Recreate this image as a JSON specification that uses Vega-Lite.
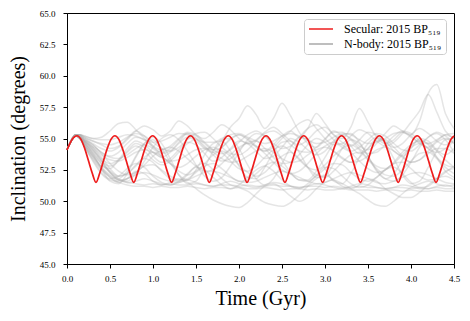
{
  "$schema": "https://vega.github.io/schema/vega-lite/v6.json",
  "width": 387,
  "height": 251,
  "autosize": {"type": "none"},
  "padding": {"left": 67, "top": 13, "right": 16, "bottom": 57},
  "background": "white",
  "datasets": {
    "times": [
      {"k":1,"t":0},{"k":2,"t":0.05},{"k":3,"t":0.1},{"k":4,"t":0.15},{"k":5,"t":0.2},{"k":6,"t":0.3},{"k":7,"t":0.4},{"k":8,"t":0.5},{"k":9,"t":0.6},{"k":10,"t":0.7},
      {"k":11,"t":0.8},{"k":12,"t":0.9},{"k":13,"t":1.0},{"k":14,"t":1.1},{"k":15,"t":1.2},{"k":16,"t":1.3},{"k":17,"t":1.4},{"k":18,"t":1.5},{"k":19,"t":1.6},{"k":20,"t":1.7},
      {"k":21,"t":1.8},{"k":22,"t":1.9},{"k":23,"t":2.0},{"k":24,"t":2.1},{"k":25,"t":2.2},{"k":26,"t":2.3},{"k":27,"t":2.4},{"k":28,"t":2.5},{"k":29,"t":2.6},{"k":30,"t":2.7},
      {"k":31,"t":2.8},{"k":32,"t":2.9},{"k":33,"t":3.0},{"k":34,"t":3.1},{"k":35,"t":3.2},{"k":36,"t":3.3},{"k":37,"t":3.4},{"k":38,"t":3.5},{"k":39,"t":3.6},{"k":40,"t":3.7},
      {"k":41,"t":3.8},{"k":42,"t":3.9},{"k":43,"t":4.0},{"k":44,"t":4.1},{"k":45,"t":4.2},{"k":46,"t":4.3},{"k":47,"t":4.4},{"k":48,"t":4.5}
    ],
    "nbody": [
      {"s":"a","v":[54.1,54.8,55.2,55.0, 54.4,53.4,52.5,51.9,51.5,51.3,51.2,51.2,51.1,51.2, 51.1,51.1,51.2,51.1,51.0,51.1,51.1,51.0,51.1,51.0, 51.0,51.1,51.0,50.9,51.0,51.0,50.9,51.0,50.9,50.9, 51.0,50.9,50.9,50.9,50.8,50.9,50.9,50.8,50.9,50.8, 50.8,50.9,50.8,50.8]},
      {"s":"b","v":[54.1,54.8,55.3,55.1, 54.7,53.9,53.0,52.3,51.8,51.5,51.4,51.3,51.4,51.3, 51.4,51.3,51.3,51.4,51.3,51.2,51.3,51.3,51.2,51.3, 51.2,51.2,51.3,51.2,51.2,51.1,51.2,51.2,51.1,51.2, 51.1,51.1,51.2,51.1,51.1,51.0,51.1,51.1,51.0,51.1, 51.0,51.1,51.0,51.0]},
      {"s":"c","v":[54.1,54.8,55.3,55.2, 54.9,54.5,53.8,53.0,52.4,52.1,52.3,52.9,53.6,54.1, 54.3,54.0,53.4,52.8,52.4,52.5,53.0,53.7,54.3,54.6, 54.4,53.8,53.1,52.5,52.2,52.4,53.0,53.8,54.4,54.7, 54.5,53.9,53.2,52.6,52.3,52.5,53.1,53.9,54.5,54.8, 54.6,54.0,53.3,52.7]},
      {"s":"d","v":[54.1,54.8,55.2,55.1, 54.8,54.1,53.2,52.3,51.8,52.4,53.6,54.6,54.9,54.2, 53.1,52.1,51.7,52.5,53.7,54.6,54.8,54.0,52.8,51.9, 51.8,52.7,53.9,54.7,54.8,53.9,52.7,51.9,52.0,53.0, 54.2,54.9,54.6,53.6,52.4,51.8,52.2,53.3,54.4,54.9, 54.5,53.5,52.4,51.9]},
      {"s":"e","v":[54.1,54.9,55.3,55.3, 55.1,54.8,54.5,54.2,54.4,55.0,55.6,55.2,54.4,53.8, 54.0,54.7,55.4,55.0,54.3,54.1,54.8,55.9,56.6,57.6, 56.9,55.8,56.6,57.8,56.8,55.5,54.6,54.3,54.9,55.6, 55.2,54.4,53.8,54.2,55.0,54.8,54.0,53.6,54.2,55.0, 54.8,54.1,53.7,54.2]},
      {"s":"f","v":[54.1,54.8,55.2,55.1, 54.7,54.0,53.2,52.8,53.2,54.0,54.6,54.3,53.6,53.1, 53.4,54.1,54.7,54.5,53.8,53.2,53.5,54.2,54.8,54.6, 54.0,53.4,53.6,54.3,55.0,54.7,54.1,53.7,54.0,54.8, 55.3,55.0,54.4,54.1,54.6,55.4,56.0,55.6,55.3,56.4, 58.6,59.3,57.0,55.8]},
      {"s":"g","v":[54.1,54.8,55.2,55.0, 54.5,53.6,52.8,52.6,53.3,54.2,54.8,54.5,53.9,53.5, 53.9,54.6,55.1,54.8,54.2,53.9,54.3,55.0,55.3,54.9, 54.3,54.0,54.5,55.2,55.6,55.1,55.8,57.0,56.2,55.3, 55.0,55.9,57.4,56.3,55.1,54.6,54.9,55.5,55.2,54.6, 54.3,54.8,55.3,55.0]},
      {"s":"h","v":[54.1,54.8,55.2,55.0, 54.6,53.7,52.7,51.9,51.5,51.8,52.4,52.2,51.6,51.3, 51.5,51.8,51.5,51.0,50.5,50.1,49.8,49.6,49.5,49.9, 50.6,51.2,51.4,51.0,50.4,50.0,50.3,51.0,51.5,51.7, 51.4,51.0,50.6,50.1,49.7,49.6,50.0,50.6,51.1,51.4, 51.6,51.4,51.2,51.3]},
      {"s":"i","v":[54.1,54.8,55.2,55.1, 54.8,54.3,53.5,52.6,52.0,52.2,52.9,53.4,53.1,52.4, 51.8,51.6,52.1,52.8,53.0,52.5,51.8,51.3,51.1,50.8, 50.3,49.9,49.7,49.6,49.9,50.5,51.2,51.8,52.1,51.7, 51.2,51.0,51.3,51.8,51.6,51.0,50.6,50.3,50.3,50.7, 51.3,51.8,52.0,51.7]},
      {"s":"j","v":[54.1,54.8,55.3,55.2, 54.9,54.4,53.9,53.5,53.4,53.7,54.2,54.5,54.2,53.6, 53.0,52.7,53.0,53.6,54.1,54.3,53.9,53.2,52.6,52.4, 52.8,53.5,54.1,54.4,54.0,53.3,52.7,52.5,52.9,53.6, 54.2,54.5,54.1,53.4,52.8,52.6,53.0,53.7,54.3,54.6, 54.2,53.5,52.9,52.7]},
      {"s":"k","v":[54.1,54.9,55.3,55.3, 55.1,54.8,54.6,54.5,54.7,55.1,55.4,55.2,54.7,54.2, 54.0,54.3,54.9,55.4,55.5,55.0,54.3,53.8,53.7,54.1, 54.8,55.4,55.6,55.2,54.5,54.0,53.9,54.3,55.0,55.5, 55.5,54.9,54.2,53.8,53.9,54.5,55.2,55.6,55.4,54.8, 54.2,53.9,54.2,54.8]},
      {"s":"l","v":[54.1,54.8,55.2,55.0, 54.5,53.5,52.6,52.0,51.7,51.8,52.3,52.8,52.9,52.5, 52.0,51.7,51.8,52.3,52.8,53.0,52.6,52.0,51.6,51.7, 52.2,52.8,53.1,52.8,52.2,51.7,51.6,52.0,52.6,53.0, 52.9,52.3,51.8,51.6,51.9,52.5,53.0,53.1,52.6,52.0, 51.7,51.8,52.3,52.8]},
      {"s":"m","v":[54.1,54.8,55.2,55.1, 54.7,53.8,52.6,51.6,51.4,52.2,53.5,54.6,55.1,54.6, 53.4,52.1,51.4,51.6,52.7,54.0,54.9,55.0,54.2,52.9, 51.8,51.3,51.8,53.0,54.3,55.1,54.9,53.9,52.6,51.6, 51.4,52.2,53.5,54.6,55.1,54.6,53.4,52.1,51.4,51.6, 52.7,54.0,54.9,55.0]},
      {"s":"n","v":[54.1,54.9,55.3,55.3, 55.2,55.0,55.1,55.6,56.2,56.3,55.7,55.0,54.4,54.1, 54.4,55.0,55.5,55.3,54.7,54.1,53.8,54.1,54.7,55.3, 55.6,55.2,54.6,54.2,54.4,55.1,55.8,56.1,55.6,54.9, 54.3,54.0,54.3,54.9,55.4,55.2,54.6,54.1,54.0,54.5, 55.1,55.5,55.2,54.6]},
      {"s":"o","v":[54.1,54.8,55.2,55.0, 54.4,53.2,52.2,51.7,51.6,51.8,52.1,52.3,52.1,51.8, 51.6,51.5,51.7,52.0,52.3,52.4,52.2,51.9,51.6,51.5, 51.6,51.9,52.2,52.4,52.2,51.9,51.6,51.4,51.5,51.8, 52.1,52.3,52.1,51.8,51.5,51.4,51.6,51.9,52.2,52.3, 52.1,51.8,51.5,51.4]},
      {"s":"p","v":[54.1,54.8,55.2,55.1, 54.8,54.1,53.4,53.0,53.3,53.9,54.4,54.0,53.3,52.9, 53.2,53.9,54.6,54.9,54.4,53.7,53.2,53.4,54.1,54.7, 54.8,54.2,53.5,53.0,53.1,53.7,54.5,55.0,54.7,54.0, 53.4,53.1,53.5,54.2,54.8,54.9,54.3,53.6,53.1,53.3, 54.0,54.7,55.0,54.6]},
      {"s":"q","v":[54.1,54.9,55.3,55.3, 55.0,54.6,54.2,54.0,54.3,54.9,55.6,56.0,55.7,55.2, 55.6,56.4,56.0,55.3,55.0,55.5,56.1,55.7,55.0,54.6, 54.9,55.5,55.9,55.4,54.8,54.5,54.9,55.6,55.9,55.3, 54.7,54.4,54.9,55.5,55.3,54.7,54.3,54.6,55.3,55.8, 55.4,54.8,54.5,54.9]},
      {"s":"r","v":[54.1,54.8,55.2,55.0, 54.6,53.8,53.0,52.4,52.0,52.2,52.8,53.5,53.9,53.6, 53.0,52.4,52.1,52.4,53.0,53.7,54.0,53.6,52.9,52.3, 52.0,52.3,53.0,53.6,53.9,53.4,52.7,52.1,51.9,52.4, 53.1,53.7,53.9,53.3,52.6,52.1,52.0,52.5,53.2,53.8, 53.9,53.4,52.7,52.2]},
      {"s":"s","v":[54.1,54.8,55.2,55.0, 54.5,53.6,52.7,52.1,51.7,51.5,51.6,51.8,51.6,51.4, 51.3,51.5,51.7,51.5,51.3,51.2,51.4,51.6,51.4,51.2, 51.1,51.3,51.5,51.4,51.2,51.1,51.2,51.4,51.3,51.1, 51.0,51.2,51.4,51.3,51.1,51.0,51.1,51.3,51.2,51.0, 51.0,51.2,51.3,51.1]},
      {"s":"t","v":[54.1,54.9,55.3,55.3, 55.2,55.0,54.9,54.9,55.1,55.3,55.2,54.9,54.7,54.8, 55.1,55.4,55.3,55.0,54.7,54.7,55.0,55.3,55.4,55.1, 54.8,54.6,54.8,55.2,55.4,55.2,54.9,54.6,54.7,55.1, 55.4,55.3,54.9,54.6,54.7,55.0,55.4,55.5,55.1,54.7, 54.6,54.9,55.3,55.4]},
      {"s":"u","v":[54.1,54.8,55.2,55.1, 54.8,54.2,53.3,52.3,51.7,51.6,52.2,53.2,54.3,55.0, 55.3,54.9,54.0,52.9,52.0,51.6,51.9,52.8,53.9,54.9, 55.4,55.2,54.4,53.3,52.3,51.7,51.7,52.4,53.5,54.6, 55.3,55.4,54.7,53.6,52.5,51.8,51.6,52.1,53.1,54.3, 55.1,55.4,54.9,53.9]},
      {"s":"v","v":[54.1,54.8,55.2,55.0, 54.4,53.3,52.3,51.8,52.0,52.6,53.0,52.7,52.0,51.5, 51.3,51.6,52.2,52.7,52.5,51.9,51.3,51.0,51.3,51.9, 52.5,52.8,52.4,51.7,51.2,51.0,51.4,52.1,52.7,52.6, 52.0,51.4,51.1,51.3,51.9,52.5,52.7,52.2,51.5,51.1, 51.2,51.8,52.4,52.6]},
      {"s":"w","v":[54.1,54.9,55.3,55.2, 55.0,54.5,53.9,53.6,53.9,54.6,55.1,54.9,54.3,53.9, 54.2,54.9,55.4,55.2,54.6,54.1,54.3,54.9,55.3,55.0, 54.4,54.0,54.3,55.0,55.6,56.2,56.5,55.8,55.0,54.5, 54.6,55.2,55.7,55.4,54.8,54.4,54.7,55.4,56.3,57.2, 58.5,57.1,55.6,55.0]},
      {"s":"x","v":[54.1,54.8,55.3,55.2, 54.9,54.3,53.7,53.3,53.2,53.5,53.9,54.1,53.9,53.5, 53.2,53.3,53.7,54.1,54.2,53.9,53.4,53.1,53.2,53.6, 54.0,54.2,53.9,53.4,53.1,53.2,53.7,54.1,54.3,54.0, 53.5,53.1,53.2,53.6,54.1,54.3,54.0,53.5,53.1,53.3, 53.8,54.2,54.2,53.8]}
    ],
    "secular": [
      {"t":0,"i":54.08},{"t":0.03,"i":54.55},{"t":0.059,"i":54.92},{"t":0.088,"i":55.14},{"t":0.117,"i":55.22},{"t":0.161,"i":54.95},{"t":0.205,"i":54.22},{"t":0.249,"i":53.24},{"t":0.293,"i":52.25},
      {"t":0.337,"i":51.5},{"t":0.381,"i":52.25},{"t":0.425,"i":53.24},{"t":0.469,"i":54.22},{"t":0.513,"i":54.95},{"t":0.557,"i":55.22},{"t":0.601,"i":54.95},{"t":0.644,"i":54.22},{"t":0.688,"i":53.24},{"t":0.732,"i":52.25},
      {"t":0.776,"i":51.5},{"t":0.82,"i":52.25},{"t":0.864,"i":53.24},{"t":0.908,"i":54.22},{"t":0.952,"i":54.95},{"t":0.996,"i":55.22},{"t":1.04,"i":54.95},{"t":1.084,"i":54.22},{"t":1.128,"i":53.24},{"t":1.172,"i":52.25},
      {"t":1.216,"i":51.5},{"t":1.26,"i":52.25},{"t":1.304,"i":53.24},{"t":1.348,"i":54.22},{"t":1.392,"i":54.95},{"t":1.436,"i":55.22},{"t":1.479,"i":54.95},{"t":1.523,"i":54.22},{"t":1.567,"i":53.24},{"t":1.611,"i":52.25},
      {"t":1.655,"i":51.5},{"t":1.699,"i":52.25},{"t":1.743,"i":53.24},{"t":1.787,"i":54.22},{"t":1.831,"i":54.95},{"t":1.875,"i":55.22},{"t":1.919,"i":54.95},{"t":1.963,"i":54.22},{"t":2.007,"i":53.24},{"t":2.05,"i":52.25},
      {"t":2.094,"i":51.5},{"t":2.138,"i":52.25},{"t":2.182,"i":53.24},{"t":2.226,"i":54.22},{"t":2.27,"i":54.95},{"t":2.314,"i":55.22},{"t":2.358,"i":54.95},{"t":2.402,"i":54.22},{"t":2.446,"i":53.24},{"t":2.49,"i":52.25},
      {"t":2.534,"i":51.5},{"t":2.578,"i":52.25},{"t":2.622,"i":53.24},{"t":2.666,"i":54.22},{"t":2.71,"i":54.95},{"t":2.753,"i":55.22},{"t":2.797,"i":54.95},{"t":2.841,"i":54.22},{"t":2.885,"i":53.24},{"t":2.929,"i":52.25},
      {"t":2.973,"i":51.5},{"t":3.017,"i":52.25},{"t":3.061,"i":53.24},{"t":3.105,"i":54.22},{"t":3.149,"i":54.95},{"t":3.193,"i":55.22},{"t":3.237,"i":54.95},{"t":3.281,"i":54.22},{"t":3.324,"i":53.24},{"t":3.368,"i":52.25},
      {"t":3.412,"i":51.5},{"t":3.456,"i":52.25},{"t":3.5,"i":53.24},{"t":3.544,"i":54.22},{"t":3.588,"i":54.95},{"t":3.632,"i":55.22},{"t":3.676,"i":54.95},{"t":3.72,"i":54.22},{"t":3.764,"i":53.24},{"t":3.808,"i":52.25},
      {"t":3.851,"i":51.5},{"t":3.895,"i":52.25},{"t":3.939,"i":53.24},{"t":3.983,"i":54.22},{"t":4.027,"i":54.95},{"t":4.071,"i":55.22},{"t":4.115,"i":54.95},{"t":4.159,"i":54.22},{"t":4.203,"i":53.24},{"t":4.247,"i":52.25},
      {"t":4.291,"i":51.5},{"t":4.335,"i":52.25},{"t":4.379,"i":53.24},{"t":4.422,"i":54.22},{"t":4.466,"i":54.95},{"t":4.5,"i":55.2}
    ]
  },
  "encoding": {
    "x": {
      "field": "t", "type": "quantitative",
      "scale": {"domain": [0, 4.5], "nice": false, "zero": false},
      "axis": {"title": "Time (Gyr)", "values": [0, 0.5, 1, 1.5, 2, 2.5, 3, 3.5, 4, 4.5], "format": ".1f", "labelPadding": 6, "titlePadding": 5, "labelFlush": false, "labelOverlap": false}
    },
    "y": {
      "field": "i", "type": "quantitative",
      "scale": {"domain": [45, 65], "nice": false, "zero": false},
      "axis": {"title": "Inclination (degrees)", "values": [45, 47.5, 50, 52.5, 55, 57.5, 60, 62.5, 65], "format": ".1f", "labelPadding": 8, "titlePadding": 11, "labelFlush": false, "labelOverlap": false, "tickCount": 9}
    }
  },
  "layer": [
    {
      "data": {"name": "nbody"},
      "transform": [
        {"flatten": ["v"], "as": ["i"]},
        {"window": [{"op": "row_number", "as": "k"}], "groupby": ["s"]},
        {"lookup": "k", "from": {"data": {"name": "times"}, "key": "k", "fields": ["t"]}}
      ],
      "mark": {"type": "line", "interpolate": "monotone", "strokeWidth": 1.5, "opacity": 0.3},
      "encoding": {
        "detail": {"field": "s"},
        "color": {"datum": "N-body: 2015 BP₅₁₉"}
      }
    },
    {
      "data": {"name": "secular"},
      "mark": {"type": "line", "interpolate": "monotone", "strokeWidth": 1.7},
      "encoding": {
        "color": {
          "datum": "Secular: 2015 BP₅₁₉",
          "scale": {"domain": ["Secular: 2015 BP₅₁₉", "N-body: 2015 BP₅₁₉"], "range": ["#ee1c1c", "#a8a8a8"]},
          "legend": {
            "title": null, "orient": "none", "legendX": 237, "legendY": 6,
            "symbolType": "stroke", "symbolSize": 576, "symbolStrokeWidth": 1.7, "symbolOpacity": 1, "clipHeight": 12,
            "labelFont": "Liberation Serif", "labelFontSize": 12, "labelColor": "black", "labelLimit": 300,
            "fillColor": "white", "strokeColor": "#cccccc", "cornerRadius": 3, "padding": 4, "rowPadding": 3, "labelOffset": 10,
            "encode": {"symbols": {"update": {"opacity": {"value": 1}, "strokeOpacity": {"value": 1}}}}
          }
        }
      }
    }
  ],
  "config": {
    "font": "Liberation Serif",
    "view": {"stroke": "black", "strokeWidth": 1},
    "legend": {"symbolOpacity": 1},
    "axis": {
      "grid": false, "domainColor": "black", "domainWidth": 1, "tickColor": "black", "tickSize": 4,
      "labelColor": "black", "titleColor": "black",
      "labelFont": "Liberation Serif", "titleFont": "Liberation Serif",
      "labelFontSize": 9, "titleFontSize": 20, "titleFontWeight": "normal"
    }
  }
}
